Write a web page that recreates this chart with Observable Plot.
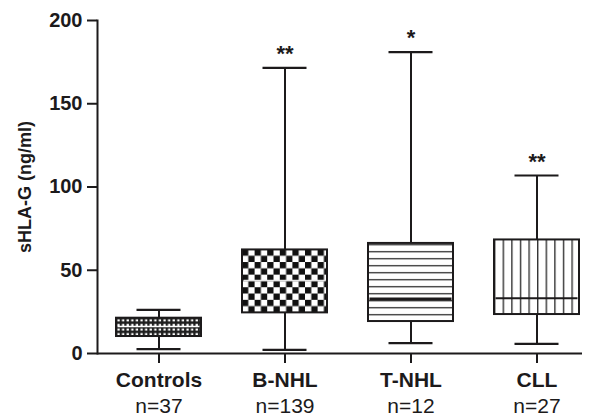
<!DOCTYPE html>
<html><head><meta charset="utf-8">
<script src="https://cdn.jsdelivr.net/npm/d3@7"></script>
<script src="https://cdn.jsdelivr.net/npm/@observablehq/plot@0.6"></script>
<style>body{margin:0;background:#fff}</style>
</head><body><div id="chart"></div>
<script>
const groups = ["Controls", "B-NHL", "T-NHL", "CLL"];
const sampleSizes = ["n=37", "n=139", "n=12", "n=27"];
const whiskerLow = [2.6, 2.2, 6.2, 5.8];
const quartile1 = [10.2, 24.4, 19.2, 23.4];
const medians = [16.2, 43.8, 32.8, 33.2];
const quartile3 = [21.2, 62.2, 66.1, 68.2];
const whiskerHigh = [26.2, 171.5, 181, 106.9];
const significance = ["", "**", "*", "**"];
const yTicks = [0, 50, 100, 150, 200];
const yLabel = "sHLA-G (ng/ml)";

const rows = groups.map((g, i) => ({
  group: g, n: sampleSizes[i], lo: whiskerLow[i], q1: quartile1[i],
  med: medians[i], q3: quartile3[i], hi: whiskerHigh[i], sig: significance[i]
}));

const ink = "#1c1a1b";
const patId = {"Controls": "pat-controls", "B-NHL": "pat-bnhl", "T-NHL": "pat-tnhl", "CLL": "pat-cll"};
const medianStroke = {"Controls": "#ffffff", "B-NHL": "#e8e8e8", "T-NHL": ink, "CLL": ink};
const medianWidth = {"Controls": 1.5, "B-NHL": 1.5, "T-NHL": 3, "CLL": 2};

const font = "'Liberation Sans', Arial, Helvetica, sans-serif";

const svg = Plot.plot({
  width: 596, height: 419,
  marginTop: 20, marginBottom: 66, marginLeft: 97, marginRight: 14,
  style: {fontFamily: font, fontSize: "20px", fontWeight: "bold", color: ink, background: "#fff"},
  x: {type: "band", domain: groups, range: [96, 600], paddingInner: 0.325, paddingOuter: 0.1625, align: 0.5, axis: null},
  y: {domain: [0, 200], axis: null},
  marks: [
    ...groups.map(g => Plot.barY(rows.filter(d => d.group === g), {
      x: "group", y1: "q1", y2: "q3", fill: `url(#${patId[g]})`, stroke: ink, strokeWidth: 2
    })),
    ...groups.map(g => Plot.tickY(rows.filter(d => d.group === g), {
      x: "group", y: "med", stroke: medianStroke[g], strokeWidth: medianWidth[g], insetLeft: 1.5, insetRight: 1.5
    })),
    Plot.ruleX(rows, {x: "group", y1: "q3", y2: "hi", stroke: ink, strokeWidth: 2}),
    Plot.ruleX(rows, {x: "group", y1: "lo", y2: "q1", stroke: ink, strokeWidth: 2}),
    Plot.tickY(rows, {x: "group", y: "hi", stroke: ink, strokeWidth: 2.2, insetLeft: 20.5, insetRight: 20.5}),
    Plot.tickY(rows, {x: "group", y: "lo", stroke: ink, strokeWidth: 2.2, insetLeft: 20.5, insetRight: 20.5}),
    Plot.axisY({ticks: yTicks, tickSize: 10, tickPadding: 5, strokeWidth: 2, label: null, fontSize: 20, fontWeight: "bold", stroke: ink}),
    Plot.axisX({tickSize: 10, strokeWidth: 2, tickFormat: () => "", label: null, stroke: ink}),
    Plot.frame({anchor: "left", stroke: ink, strokeWidth: 2}),
    Plot.ruleY([0], {stroke: ink, strokeWidth: 2}),
    Plot.text(rows, {x: "group", text: "group", frameAnchor: "bottom", dy: 33, fontSize: 21, fontWeight: "bold", fill: ink}),
    Plot.text(rows, {x: "group", text: "n", frameAnchor: "bottom", dy: 59, fontSize: 21, fontWeight: "normal", fill: ink}),
    Plot.text(rows, {x: "group", y: "hi", text: "sig", dy: -14, fontSize: 22, fontWeight: "bold", fill: ink}),
    Plot.text([yLabel], {frameAnchor: "left", textAnchor: "middle", dx: -72, rotate: -90, fontSize: 18, fontWeight: "bold", fill: ink})
  ]
});

document.getElementById("chart").appendChild(svg);

// patterns, anchored at each box's own top-left corner
const defs = d3.select(svg).insert("defs", ":first-child");
function boxOrigin(g) {
  const r = svg.querySelector(`g[fill="url(#${patId[g]})"] rect`);
  return r ? [+r.getAttribute("x") || 0, +r.getAttribute("y") || 0] : [0, 0];
}
function pattern(g, w, h) {
  const [x0, y0] = boxOrigin(g);
  return defs.append("pattern").attr("id", patId[g]).attr("patternUnits", "userSpaceOnUse")
    .attr("x", x0).attr("y", y0).attr("width", w).attr("height", h);
}
{
  const p = pattern("Controls", 4.6, 4.6);
  p.append("rect").attr("width", 4.6).attr("height", 4.6).attr("fill", "#1e1e1e");
  p.append("rect").attr("x", 1.4).attr("y", 1.6).attr("width", 2.3).attr("height", 2.1).attr("fill", "#fff");
}
{
  const s = 6.3;
  const p = pattern("B-NHL", 2 * s, 2 * s);
  p.append("rect").attr("width", 2 * s).attr("height", 2 * s).attr("fill", "#fff");
  p.append("rect").attr("width", s).attr("height", s).attr("fill", "#111");
  p.append("rect").attr("x", s).attr("y", s).attr("width", s).attr("height", s).attr("fill", "#111");
}
{
  const p = pattern("T-NHL", 10, 7);
  p.append("rect").attr("width", 10).attr("height", 7).attr("fill", "#fff");
  p.append("rect").attr("y", 1.1).attr("width", 10).attr("height", 1.3).attr("fill", "#333");
}
{
  const p = pattern("CLL", 8.6, 10);
  p.append("rect").attr("width", 8.6).attr("height", 10).attr("fill", "#fff");
  p.append("rect").attr("x", 0).attr("width", 1.4).attr("height", 10).attr("fill", "#333");
}
</script>
</body></html>
